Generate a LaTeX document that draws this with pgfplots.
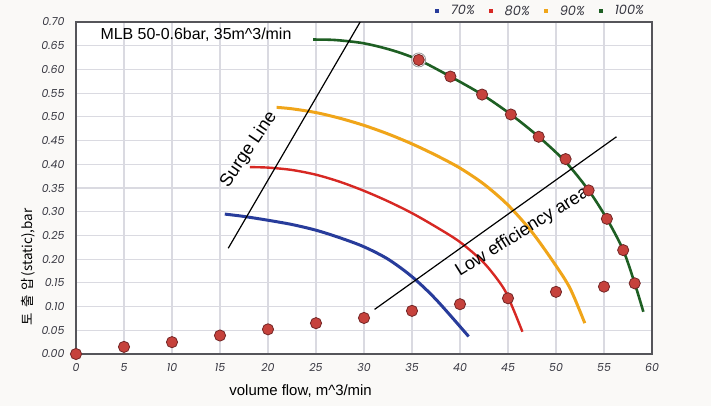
\documentclass[border=0pt]{standalone}
\usepackage{fontspec}
\setmainfont{Liberation Sans}
\newfontfamily\tickfont{Poppins}
\newfontfamily\kr{Noto Sans CJK KR}
\usepackage{pgfplots}
\pgfplotsset{compat=1.18}

\definecolor{blue70}{RGB}{40,60,155}
\definecolor{red80}{RGB}{215,40,35}
\definecolor{orange90}{RGB}{240,165,25}
\definecolor{green100}{RGB}{30,95,35}
\definecolor{dotfill}{RGB}{198,66,60}
\definecolor{dotdraw}{RGB}{115,38,38}
\definecolor{gridc}{RGB}{218,218,225}
\definecolor{axc}{RGB}{85,85,90}
\definecolor{bgc}{RGB}{250,249,247}
\definecolor{tickc}{RGB}{55,55,65}

\begin{document}
\begin{tikzpicture}
\fill[bgc] (-76bp,-52bp) rectangle (635bp,354bp);
\begin{axis}[
  at={(0,0)}, anchor=south west,
  scale only axis,
  width=576bp, height=332bp,
  xmin=0, xmax=60, ymin=0, ymax=0.7,
  xtick={0,5,...,60},
  ytick={0,0.05,...,0.71},
  grid=major,
  major grid style={gridc, line width=1.2bp},
  major tick length=0pt,
  axis line style={axc, line width=1.8bp},
  axis background/.style={fill=white},
  clip=false,
  /pgf/number format/assume math mode=true,
  tick label style={font=\tickfont\itshape\fontsize{11}{13}\selectfont, text=tickc},
  yticklabel style={/pgf/number format/fixed, /pgf/number format/fixed zerofill,
    /pgf/number format/precision=2, xshift=-8bp},
  xticklabel style={yshift=-6bp},
  xlabel={volume flow, m\textasciicircum 3/min},
  xlabel style={at={(axis description cs:0.39,0)}, anchor=north, yshift=-27bp, font=\fontsize{15}{17}\selectfont},
  legend columns=4,
  legend style={at={(axis description cs:0.995,1.033)}, anchor=east, draw=none, fill=none,
    font=\tickfont\itshape\fontsize{13}{15}\selectfont, text=tickc,
    /tikz/every even column/.append style={column sep=12bp}},
  legend image code/.code={\path[draw=none, fill=none] (0bp,-2.2bp) rectangle (14bp,2.2bp);
    \path[draw=none, #1] (0bp,-2.2bp) rectangle (4.5bp,2.2bp);},
]
\addlegendimage{fill=blue70, draw=none}
\addlegendentry{70\%}
\addlegendimage{fill=red80, draw=none}
\addlegendentry{80\%}
\addlegendimage{fill=orange90, draw=none}
\addlegendentry{90\%}
\addlegendimage{fill=green100, draw=none}
\addlegendentry{100\%}

% 70%
\addplot[blue70, line width=3bp, smooth, forget plot] coordinates {
  (15.5,0.295) (17.5,0.290) (20,0.282) (22.5,0.273) (25,0.261) (27.5,0.245)
  (30,0.226) (32.5,0.200) (35,0.163) (37.5,0.115) (40.9,0.037)
};
% 80%
\addplot[red80, line width=2.4bp, smooth, forget plot] coordinates {
  (18.1,0.394) (20,0.393) (22.5,0.388) (25,0.378) (27.5,0.363) (30,0.344)
  (32.5,0.322) (35,0.297) (37.5,0.268) (40,0.236) (42.5,0.192) (44.5,0.140)
  (45.5,0.097) (46.5,0.047)
};
% 90%
\addplot[orange90, line width=3bp, smooth, forget plot] coordinates {
  (20.9,0.520) (22.5,0.517) (25,0.509) (27.5,0.497) (30,0.482) (32.5,0.464)
  (35,0.443) (37.5,0.419) (40,0.392) (42.5,0.358) (45,0.314) (47.5,0.257)
  (50,0.186) (51.5,0.137) (53.0,0.065)
};
% 100%
\addplot[green100, line width=2.6bp, smooth, forget plot] coordinates {
  (24.7,0.663) (27,0.662) (30,0.655) (33,0.640) (35.7,0.620) (39,0.585)
  (42.3,0.547) (45.3,0.505) (48.2,0.458) (51,0.405) (53.4,0.345) (55.3,0.285)
  (57,0.219) (58.2,0.149) (59.1,0.089)
};

% surge line and low efficiency boundary
\addplot[black, line width=1.2bp, forget plot] coordinates {(15.86,0.223) (29.6,0.70)};
\addplot[black, line width=1.2bp, forget plot] coordinates {(31.1,0.094) (56.3,0.458)};

% highlighted operating point ring
\addplot[only marks, mark=*, mark size=7bp, mark options={draw=gray!80, fill=white, line width=0.8bp}, forget plot]
  coordinates {(35.7,0.620)};

% points on the 100% curve
\addplot[only marks, mark=*, mark size=5.6bp, mark options={draw=dotdraw, fill=dotfill, line width=0.8bp}, forget plot]
  coordinates {
  (35.7,0.620) (39,0.585) (42.3,0.547) (45.3,0.505) (48.2,0.458) (51,0.411)
  (53.4,0.345) (55.3,0.285) (57,0.219) (58.2,0.149)
};
% system curve points
\addplot[only marks, mark=*, mark size=5.6bp, mark options={draw=dotdraw, fill=dotfill, line width=0.8bp}, forget plot]
  coordinates {
  (0,0) (5,0.015) (10,0.025) (15,0.039) (20,0.052) (25,0.065) (30,0.076)
  (35,0.091) (40,0.105) (45,0.1175) (50,0.131) (55,0.142)
};

\node[rotate=90, anchor=center, font=\fontsize{13.5}{15}\selectfont] at (axis description cs:-0.083,0.262)
  {\kr 토\kern5bp 출\kern5bp 압\kern2bp (static),bar};
\node[anchor=west, font=\fontsize{16}{18}\selectfont] at (axis description cs:0.0365,0.961)
  {MLB 50-0.6bar, 35m\textasciicircum 3/min};
\node[rotate=56, font=\fontsize{18}{20}\selectfont] at (axis cs:18.0,0.431) {Surge Line};
\node[rotate=32, font=\fontsize{18}{20}\selectfont] at (axis cs:46.5,0.257) {Low efficiency area};
\end{axis}
\end{tikzpicture}
\end{document}
